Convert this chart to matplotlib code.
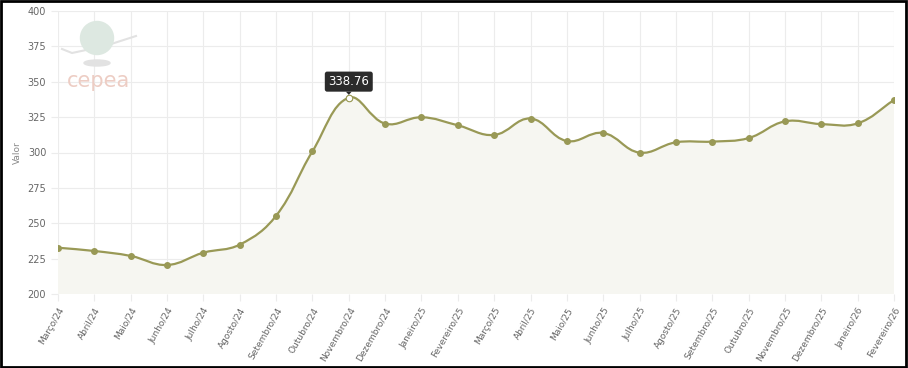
import numpy as np
import matplotlib.pyplot as plt
from matplotlib.path import Path
from matplotlib.patches import PathPatch, Rectangle, Ellipse

meses = ['Março/24', 'Abril/24', 'Maio/24', 'Junho/24', 'Julho/24', 'Agosto/24',
         'Setembro/24', 'Outubro/24', 'Novembro/24', 'Dezembro/24', 'Janeiro/25',
         'Fevereiro/25', 'Março/25', 'Abril/25', 'Maio/25', 'Junho/25', 'Julho/25',
         'Agosto/25', 'Setembro/25', 'Outubro/25', 'Novembro/25', 'Dezembro/25',
         'Janeiro/26', 'Fevereiro/26']
valores = [232.7, 230.4, 226.9, 220.5, 229.2, 234.9, 255.3, 300.8, 338.76, 320.4,
           324.9, 319.2, 312.4, 324.0, 308.1, 313.8, 299.9, 307.2, 307.7, 310.2,
           322.0, 320.1, 320.6, 337.1]
destaque = 8  # Novembro/24

cor_linha = '#999956'
cor_grade = '#ececec'
cor_texto = '#666666'

W, H = 908, 368
fig = plt.figure(figsize=(W / 100, H / 100), dpi=100)
ax = fig.add_axes([58 / W, 1 - 294 / H, (894 - 58) / W, (294 - 11) / H])

x = np.arange(len(valores), dtype=float)
y = np.array(valores, dtype=float)

# curva suave estilo Chart.js (tension 0.4), distâncias em pixels
sx, sy = 36.35, 1.415
t = 0.4
cp_prev, cp_next = [], []
for i in range(len(x)):
    p0 = (x[max(i - 1, 0)], y[max(i - 1, 0)])
    p1 = (x[i], y[i])
    p2 = (x[min(i + 1, len(x) - 1)], y[min(i + 1, len(x) - 1)])
    d01 = np.hypot((p1[0] - p0[0]) * sx, (p1[1] - p0[1]) * sy)
    d12 = np.hypot((p2[0] - p1[0]) * sx, (p2[1] - p1[1]) * sy)
    tot = d01 + d12
    s01 = d01 / tot if tot else 0
    s12 = d12 / tot if tot else 0
    fa, fb = t * s01, t * s12
    cp_prev.append((p1[0] - fa * (p2[0] - p0[0]), p1[1] - fa * (p2[1] - p0[1])))
    cp_next.append((p1[0] + fb * (p2[0] - p0[0]), p1[1] + fb * (p2[1] - p0[1])))

verts = [(x[0], y[0])]
codes = [Path.MOVETO]
for i in range(1, len(x)):
    verts += [cp_next[i - 1], cp_prev[i], (x[i], y[i])]
    codes += [Path.CURVE4] * 3

fill_verts = verts + [(x[-1], 200), (x[0], 200), (x[0], y[0])]
fill_codes = codes + [Path.LINETO, Path.LINETO, Path.CLOSEPOLY]
ax.add_patch(PathPatch(Path(fill_verts, fill_codes), facecolor='#f6f6f1', edgecolor='none', zorder=1))
ax.add_patch(PathPatch(Path(verts, codes), facecolor='none', edgecolor=cor_linha, lw=1.6, zorder=3))

ax.scatter(x, y, s=16, color=cor_linha, zorder=4)
ax.scatter([x[destaque]], [y[destaque]], s=22, color='white', edgecolor=cor_linha, lw=0.8, zorder=5)

ax.set_xlim(x[0], x[-1])
ax.set_ylim(200, 400)
ax.set_yticks(np.arange(200, 401, 25))
ax.set_xticks(x)
ax.set_xticklabels(meses, rotation=60, ha='right', rotation_mode='anchor')
ax.tick_params(axis='y', labelsize=7, colors=cor_texto, color=cor_grade, length=5)
ax.tick_params(axis='x', labelsize=6.5, colors=cor_texto, color=cor_grade, length=5)
ax.grid(True, color=cor_grade, lw=0.8, zorder=0)
for s in ax.spines.values():
    s.set_visible(False)
ax.set_axisbelow(True)
ax.set_ylabel('Valor', fontsize=6.5, color='#888888', labelpad=4)

# tooltip
ax.annotate(f'{valores[destaque]:.2f}', xy=(x[destaque], y[destaque] + 2), xytext=(0, 9.5),
            textcoords='offset points', ha='center', va='center', fontsize=8.5, color='white',
            bbox=dict(boxstyle='round,pad=0.3,rounding_size=0.2', fc='#2b2b2b', ec='none'),
            arrowprops=dict(arrowstyle='wedge,tail_width=0.5', fc='#2b2b2b', ec='none',
                            shrinkA=0, shrinkB=0), zorder=6)

# marca d'água CEPEA (unidades = pixels)
ax_logo = fig.add_axes([60 / W, 1 - 92 / H, 80 / W, 78 / H])
ax_logo.set_xlim(0, 80)
ax_logo.set_ylim(0, 78)
ax_logo.axis('off')
ax_logo.plot([2, 12, 45, 76], [43, 39, 46, 56], color='#e2e2e2', lw=1.5, zorder=0)
ax_logo.add_patch(Ellipse((37, 54), 33, 33, color='#dde8e1', zorder=1))
ax_logo.add_patch(Ellipse((37, 29), 26, 6, color='#e2e2e2', zorder=1))
ax_logo.text(39, 11, 'cepea', ha='center', va='center', fontsize=15, color='#edcdc4',
             family='DejaVu Sans')

# moldura
fig.patches.append(Rectangle((0.001, 0.002), 0.997, 0.996, transform=fig.transFigure,
                             fill=False, ec='black', lw=2))

fig.savefig('out.png', dpi=100)
